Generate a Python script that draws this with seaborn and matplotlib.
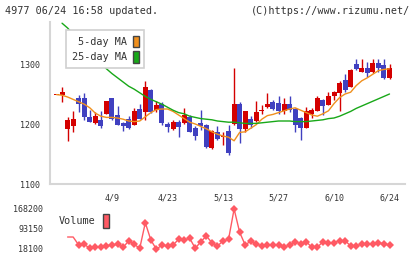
import numpy as np
import pandas as pd
import seaborn as sns
import matplotlib.pyplot as plt
from matplotlib.patches import Patch

# prix journaliers
opens = [1248, 1249, 1191, 1197, 1243, 1244, 1211, 1201, 1207, 1217,
         1243, 1215, 1202, 1209, 1199, 1225, 1220, 1257, 1223, 1234,
         1200, 1191, 1204, 1201, 1211, 1193, 1202, 1198, 1160, 1187,
         1179, 1188, 1200, 1233, 1191, 1208, 1205, 1221, 1229, 1237,
         1235, 1222, 1233, 1225, 1210, 1194, 1217, 1222, 1240, 1232,
         1246, 1251, 1274, 1262, 1300, 1287, 1293, 1286, 1302, 1298, 1276]
highs = [1248, 1262, 1211, 1222, 1248, 1252, 1223, 1220, 1222, 1239,
         1244, 1230, 1204, 1214, 1226, 1233, 1272, 1258, 1238, 1236,
         1204, 1207, 1207, 1227, 1215, 1197, 1223, 1200, 1190, 1197,
         1187, 1198, 1293, 1237, 1222, 1213, 1238, 1232, 1252, 1240,
         1246, 1243, 1246, 1227, 1212, 1229, 1226, 1246, 1241, 1254,
         1255, 1271, 1283, 1291, 1308, 1308, 1304, 1308, 1308, 1308, 1300]
lows = [1248, 1236, 1171, 1187, 1220, 1207, 1203, 1200, 1194, 1216,
        1207, 1198, 1189, 1192, 1198, 1208, 1207, 1219, 1220, 1199,
        1187, 1190, 1179, 1200, 1186, 1174, 1190, 1160, 1159, 1173,
        1165, 1148, 1199, 1168, 1186, 1194, 1204, 1217, 1226, 1223,
        1217, 1217, 1220, 1187, 1173, 1193, 1210, 1221, 1215, 1231,
        1240, 1222, 1254, 1261, 1290, 1286, 1279, 1285, 1287, 1275, 1275]
closes = [1248, 1254, 1207, 1208, 1234, 1211, 1204, 1213, 1197, 1238,
          1208, 1199, 1197, 1194, 1222, 1209, 1262, 1220, 1232, 1201,
          1195, 1204, 1195, 1215, 1187, 1180, 1196, 1162, 1189, 1175,
          1180, 1151, 1233, 1191, 1222, 1198, 1220, 1222, 1233, 1225,
          1222, 1233, 1224, 1198, 1193, 1222, 1223, 1243, 1230, 1247,
          1254, 1269, 1256, 1290, 1292, 1293, 1285, 1302, 1293, 1276, 1293]

ma5 = [1249, 1248, 1245, 1241, 1237, 1233, 1227, 1218, 1213, 1211,
       1211, 1210, 1208, 1205, 1204, 1205, 1212, 1219, 1224, 1225,
       1225, 1221, 1215, 1209, 1203, 1200, 1196, 1192, 1187, 1183,
       1180, 1178, 1172, 1186, 1187, 1193, 1199, 1208, 1214, 1216,
       1219, 1222, 1225, 1227, 1223, 1219, 1215, 1213, 1217, 1222,
       1234, 1244, 1250, 1253, 1264, 1272, 1277, 1283, 1289, 1291, 1292]
ma25 = [np.nan, 1368, 1360, 1350, 1340, 1330, 1320, 1310, 1300, 1292,
        1284, 1277, 1270, 1263, 1258, 1252, 1246, 1241, 1237, 1233,
        1228, 1223, 1219, 1217, 1213, 1211, 1209, 1208, 1207, 1205,
        1204, 1203, 1203, 1202, 1201, 1201, 1201, 1202, 1203, 1204,
        1205, 1205, 1205, 1204, 1204, 1204, 1205, 1206, 1207, 1209,
        1210, 1213, 1217, 1221, 1226, 1230, 1234, 1238, 1242, 1246, 1250]

volume = [np.nan, np.nan, 63100, 63100, 33100, 35700, 20700, 24500, 26700, 30500,
          33100, 35700, 24500, 48100, 35700, 20700, 116700, 51900, 16900, 33100,
          29300, 33100, 54500, 51900, 58300, 20700, 45500, 66900, 41700, 29300,
          48100, 54500, 168200, 80700, 33100, 48100, 36900, 29300, 33100, 33100,
          33100, 24500, 33100, 45500, 36900, 45500, 24500, 24500, 45500, 41700,
          41700, 49300, 49300, 29300, 29300, 36900, 36900, 36900, 41700, 36900, 33100]

date_pos = [10, 20, 30, 40, 50, 60]
date_labels = ["4/9", "4/23", "5/13", "5/27", "6/10", "6/24"]
price_ticks = [1100, 1200, 1300]
vol_ticks = [18100, 93150, 168200]

df = pd.DataFrame({"open": opens, "high": highs, "low": lows, "close": closes,
                   "ma5": ma5, "ma25": ma25, "volume": volume})
df["day"] = np.arange(len(df))

sns.set_style("white")
plt.rcParams["font.family"] = ["DejaVu Sans Mono"]
txt = "#333333"
grid = "#d6d6d6"

fig = plt.figure(figsize=(4.2, 2.59), dpi=100)
ax = fig.add_axes([50 / 420, 75 / 259, 355 / 420, 162 / 259])
xlim = (-1.17, 62.79)

# bougies : rouge = hausse, bleu = baisse
up = df["close"] >= df["open"]
cols = np.where(up, "#d40000", "#4040c0")
ax.vlines(df["day"], df["low"], df["high"], colors=cols, lw=1, zorder=2)
body = (df["close"] - df["open"]).abs().clip(lower=1.5)
ax.bar(df["day"], body, bottom=df[["open", "close"]].min(axis=1),
       width=0.9, color=cols, linewidth=0, zorder=3)

sns.lineplot(data=df, x="day", y="ma5", color="#f0901e", lw=1, ax=ax, zorder=4)
sns.lineplot(data=df, x="day", y="ma25", color="#18a818", lw=1, ax=ax, zorder=4)

ax.set_xlim(*xlim)
ax.set_ylim(1100, 1370)
ax.set_xlabel("")
ax.set_ylabel("")
for s in ["top", "right"]:
    ax.spines[s].set_visible(False)
for s in ["left", "bottom"]:
    ax.spines[s].set_color(grid)
    ax.spines[s].set_linewidth(1.5)
ax.set_yticks(price_ticks)
ax.tick_params(axis="y", direction="inout", length=6, width=1.5, color=grid,
               labelsize=6, labelcolor=txt, pad=4)
ax.set_xticks(date_pos)
ax.set_xticklabels(date_labels)
ax.set_xticks(np.linspace(xlim[0], xlim[1], 12), minor=True)
ax.tick_params(axis="x", which="major", length=0, labelsize=6, labelcolor=txt, pad=7)
ax.tick_params(axis="x", which="minor", direction="inout", length=6, width=1.5, color=grid)

leg = ax.legend(handles=[Patch(facecolor="#f0901e", edgecolor="#444444", lw=1),
                         Patch(facecolor="#18a818", edgecolor="#444444", lw=1)],
                labels=["5-day MA", "25-day MA"], markerfirst=False,
                loc="upper left", bbox_to_anchor=(66 / 420, 1 - 30 / 259),
                bbox_transform=fig.transFigure, borderaxespad=0,
                fontsize=7.3, handlelength=0.6, handleheight=1.4,
                handletextpad=0.6, labelspacing=0.35, borderpad=0.55,
                fancybox=False, framealpha=1, edgecolor="#d0d0d0")
leg.get_frame().set_linewidth(1.2)
for t in leg.get_texts():
    t.set_color(txt)

# volume (les deux premiers points sans marqueur)
axv = fig.add_axes([50 / 420, 2 / 259, 355 / 420, 54 / 259])
vdf = df.dropna(subset=["volume"])
sns.lineplot(data=vdf, x="day", y="volume", color="#ff5a64", lw=1, marker="D",
             markersize=4.5, markeredgewidth=0, markevery=slice(2, None), ax=axv)
axv.set_xlim(*xlim)
axv.set_ylim(-11920, 190715)
axv.set_xlabel("")
axv.set_ylabel("")
for s in axv.spines.values():
    s.set_visible(False)
axv.set_xticks([])
axv.set_yticks(vol_ticks)
axv.set_yticklabels([str(v) for v in vol_ticks])
axv.tick_params(axis="y", length=0, labelsize=6, labelcolor=txt, pad=5)
axv.patch.set_alpha(0)

lv = axv.legend(handles=[Patch(facecolor="#ff5a64", edgecolor="#444444", lw=1)],
                labels=["Volume"], markerfirst=False, loc="center left",
                bbox_to_anchor=(59 / 420, 1 - 221 / 259), bbox_transform=fig.transFigure,
                borderaxespad=0, fontsize=7.3, handlelength=0.6, handleheight=1.6,
                handletextpad=0.7, frameon=False, borderpad=0)
for t in lv.get_texts():
    t.set_color(txt)

fig.text(5 / 420, 1 - 11 / 259, "4977 06/24 16:58 updated.", fontsize=7.3,
         color=txt, va="center")
fig.text(410 / 420, 1 - 11 / 259, "(C)https://www.rizumu.net/", fontsize=7.3,
         color=txt, va="center", ha="right")

fig.savefig("out.png", dpi=100)
